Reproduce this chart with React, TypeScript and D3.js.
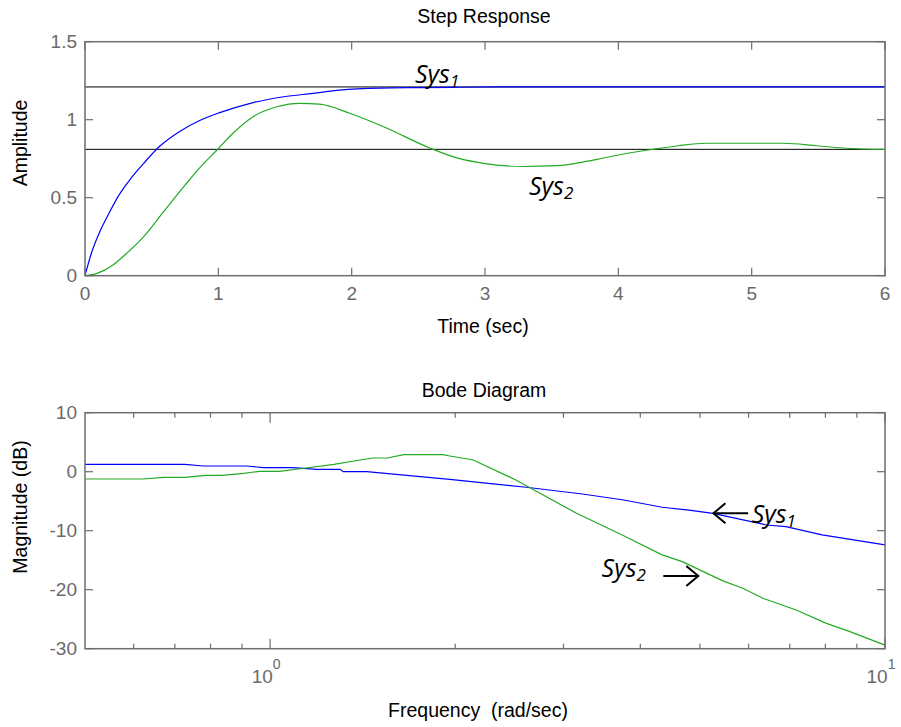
import React from "react";
import * as d3 from "d3";

// ---- Step response data ----
const stepT1 = [0, 0.05, 0.11, 0.18, 0.25, 0.35, 0.44, 0.56, 0.71, 0.86, 1.01, 1.24, 1.49, 1.71, 1.91, 2.21, 2.5, 2.8, 3.1, 6];
const stepSys1 = [0, 0.15, 0.28, 0.4, 0.51, 0.63, 0.72, 0.83, 0.925, 0.995, 1.045, 1.105, 1.147, 1.169, 1.19, 1.203, 1.206, 1.208, 1.21, 1.21];
const stepT2 = [0, 0.09, 0.21, 0.29, 0.44, 0.59, 0.75, 0.88, 0.99, 1.11, 1.26, 1.44, 1.61, 1.76, 1.99, 2.24, 2.59, 2.81, 2.99, 3.29, 3.54, 3.74, 3.84, 4.04, 4.26, 4.45, 4.66, 5.24, 5.49, 5.71, 6];
const stepSys2 = [0, 0.015, 0.069, 0.126, 0.25, 0.41, 0.58, 0.71, 0.806, 0.913, 1.019, 1.083, 1.105, 1.1, 1.04, 0.955, 0.817, 0.75, 0.72, 0.7, 0.705, 0.73, 0.746, 0.78, 0.81, 0.833, 0.849, 0.849, 0.833, 0.817, 0.81];
const refLevels = [1.21, 0.81];
const stepXTicks = [0, 1, 2, 3, 4, 5, 6];
const stepYTicks = [0, 0.5, 1, 1.5];

// ---- Bode data ----
const bodeF1 = [0.5, 0.727, 0.778, 0.916, 0.975, 1.091, 1.19, 1.3, 1.315, 1.436, 1.96, 2.61, 3.22, 3.76, 4.34, 4.8, 5.25, 6.42, 6.9, 7.9, 10];
const bodeSys1 = [1.25, 1.25, 0.97, 0.97, 0.68, 0.68, 0.4, 0.4, 0, 0, -1.3, -2.64, -3.78, -4.8, -6.03, -6.5, -7.05, -9.03, -9.3, -10.7, -12.4];
const bodeF2 = [0.5, 0.622, 0.671, 0.727, 0.788, 0.835, 0.906, 0.96, 1.035, 1.12, 1.27, 1.4, 1.47, 1.55, 1.65, 1.91, 1.96, 2.14, 2.51, 3.15, 3.76, 4.34, 4.68, 5.45, 5.87, 6.33, 7.17, 8.03, 8.77, 10];
const bodeSys2 = [-1.24, -1.24, -0.96, -0.96, -0.62, -0.62, -0.28, 0.06, 0.06, 0.5, 1.25, 1.98, 2.32, 2.32, 2.88, 2.88, 2.66, 1.98, -1.4, -7.05, -10.85, -14.1, -15.25, -18.5, -19.76, -21.46, -23.44, -25.7, -27.1, -29.4];
const bodeYTicks = [10, 0, -10, -20, -30];
const bodeMajor = [1, 10];
const bodeMinor = [0.6, 0.7, 0.8, 0.9, 2, 3, 4, 5, 6, 7, 8, 9];

const AX = "#6e6e6e";
const TICKCOL = "#6a6a6a";
const BLUE = "#0000ff";
const GREEN = "#22aa22";
const FONT = "'Liberation Sans', Arial, sans-serif";
const SYSFONT = "'Open Sans', 'Liberation Sans', sans-serif";

function Arrow({ x1, x2, y }: { x1: number; x2: number; y: number }) {
  // tip at x1 (direction from x2 to x1)
  const dir = x1 < x2 ? 1 : -1;
  const h = 12;
  const w = 10;
  return (
    <g stroke="#000" strokeWidth={2} fill="none">
      <line x1={x1} y1={y} x2={x2} y2={y} />
      <polyline points={`${x1 + dir * h},${y - w} ${x1},${y} ${x1 + dir * h},${y + w}`} />
    </g>
  );
}

function SysLabel({ x, y, sub }: { x: number; y: number; sub: string }) {
  return (
    <text x={x} y={y} fontFamily={SYSFONT} fontStyle="italic" fontSize={25} fill="#000">
      Sys
      <tspan fontSize={17} dy={4}>{sub}</tspan>
    </text>
  );
}

export default function App() {
  const W = 901, H = 727;
  const L = 85, R = 885;
  const xs = d3.scaleLinear().domain([0, 6]).range([L, R]);
  const ys = d3.scaleLinear().domain([0, 1.5]).range([275.7, 41.7]);
  const xb = d3.scaleLog().domain([0.5, 10]).range([L, R]);
  const yb = d3.scaleLinear().domain([-30, 10]).range([648.7, 412.7]);

  const lineS = d3.line<[number, number]>().x((d) => xs(d[0])).y((d) => ys(d[1])).curve(d3.curveMonotoneX);
  const lineB = d3.line<[number, number]>().x((d) => xb(d[0])).y((d) => yb(d[1]));

  const s1 = stepT1.map((t, i) => [t, stepSys1[i]] as [number, number]);
  const s2 = stepT2.map((t, i) => [t, stepSys2[i]] as [number, number]);
  const b1 = bodeF1.map((f, i) => [f, bodeSys1[i]] as [number, number]);
  const b2 = bodeF2.map((f, i) => [f, bodeSys2[i]] as [number, number]);

  const sTop = ys(1.5), sBot = ys(0);
  const bTop = yb(10), bBot = yb(-30);

  return (
    <svg width={W} height={H} style={{ position: "absolute", left: 0, top: 0, background: "#fff" }}>
      <rect x={0} y={0} width={W} height={H} fill="#fff" />
      {/* ---------- Step response ---------- */}
      <text x={484} y={23} textAnchor="middle" fontFamily={FONT} fontSize={19.5} fill="#000">Step Response</text>
      {refLevels.map((v) => (
        <line key={v} x1={L} x2={R} y1={ys(v)} y2={ys(v)} stroke="#000" strokeWidth={1} />
      ))}
      <path d={lineS(s2) || ""} fill="none" stroke={GREEN} strokeWidth={1.2} />
      <path d={lineS(s1) || ""} fill="none" stroke={BLUE} strokeWidth={1.2} />
      <rect x={L} y={sTop} width={R - L} height={sBot - sTop} fill="none" stroke={AX} strokeWidth={1.5} />
      {stepXTicks.map((t) => (
        <g key={t}>
          <line x1={xs(t)} x2={xs(t)} y1={sBot} y2={sBot - 8} stroke={AX} strokeWidth={1.2} />
          <line x1={xs(t)} x2={xs(t)} y1={sTop} y2={sTop + 8} stroke={AX} strokeWidth={1.2} />
          <text x={xs(t)} y={sBot + 24} textAnchor="middle" fontFamily={FONT} fontSize={19} fill={TICKCOL}>{t}</text>
        </g>
      ))}
      {stepYTicks.map((v) => (
        <g key={v}>
          <line x1={L} x2={L + 8} y1={ys(v)} y2={ys(v)} stroke={AX} strokeWidth={1.2} />
          <line x1={R} x2={R - 8} y1={ys(v)} y2={ys(v)} stroke={AX} strokeWidth={1.2} />
          <text x={77} y={ys(v)} dy="0.35em" textAnchor="end" fontFamily={FONT} fontSize={19} fill={TICKCOL}>{v}</text>
        </g>
      ))}
      <text x={483} y={333} textAnchor="middle" fontFamily={FONT} fontSize={19.5} fill="#000">Time (sec)</text>
      <text transform="translate(27,143) rotate(-90)" textAnchor="middle" fontFamily={FONT} fontSize={19.5} fill="#000">Amplitude</text>
      <SysLabel x={xs(2.475)} y={ys(1.233)} sub="1" />
      <SysLabel x={xs(3.33)} y={ys(0.517)} sub="2" />

      {/* ---------- Bode ---------- */}
      <text x={484} y={397} textAnchor="middle" fontFamily={FONT} fontSize={19.5} fill="#000">Bode Diagram</text>
      <path d={lineB(b1) || ""} fill="none" stroke={BLUE} strokeWidth={1.2} />
      <path d={lineB(b2) || ""} fill="none" stroke={GREEN} strokeWidth={1.2} />
      <rect x={L} y={bTop} width={R - L} height={bBot - bTop} fill="none" stroke={AX} strokeWidth={1.5} />
      {bodeYTicks.map((v) => (
        <g key={v}>
          <line x1={L} x2={L + 8} y1={yb(v)} y2={yb(v)} stroke={AX} strokeWidth={1.2} />
          <line x1={R} x2={R - 8} y1={yb(v)} y2={yb(v)} stroke={AX} strokeWidth={1.2} />
          <text x={77} y={yb(v)} dy="0.35em" textAnchor="end" fontFamily={FONT} fontSize={19} fill={TICKCOL}>{v}</text>
        </g>
      ))}
      {bodeMinor.map((f) => (
        <g key={f}>
          <line x1={xb(f)} x2={xb(f)} y1={bBot} y2={bBot - 5} stroke={AX} strokeWidth={1.2} />
          <line x1={xb(f)} x2={xb(f)} y1={bTop} y2={bTop + 5} stroke={AX} strokeWidth={1.2} />
        </g>
      ))}
      {bodeMajor.map((f) => (
        <g key={f}>
          <line x1={xb(f)} x2={xb(f)} y1={bBot} y2={bBot - 10} stroke={AX} strokeWidth={1.2} />
          <line x1={xb(f)} x2={xb(f)} y1={bTop} y2={bTop + 10} stroke={AX} strokeWidth={1.2} />
          <text x={xb(f) - 4} y={bBot + 34} textAnchor="middle" fontFamily={FONT} fontSize={19} fill={TICKCOL}>
            10
            <tspan fontSize={14} dy={-14}>{String(Math.round(Math.log10(f)))}</tspan>
          </text>
        </g>
      ))}
      <text x={478} y={717} textAnchor="middle" fontFamily={FONT} fontSize={19.5} fill="#000" style={{ whiteSpace: "pre" }} xmlSpace="preserve">Frequency  (rad/sec)</text>
      <text transform="translate(27,507) rotate(-90)" textAnchor="middle" fontFamily={FONT} fontSize={19.5} fill="#000">Magnitude (dB)</text>
      <Arrow x1={xb(5.26)} x2={xb(5.99)} y={yb(-7.05)} />
      <SysLabel x={xb(6.07)} y={yb(-8.75)} sub="1" />
      <SysLabel x={xb(3.46)} y={yb(-17.9)} sub="2" />
      <Arrow x1={xb(4.97)} x2={xb(4.36)} y={yb(-17.68)} />
    </svg>
  );
}
